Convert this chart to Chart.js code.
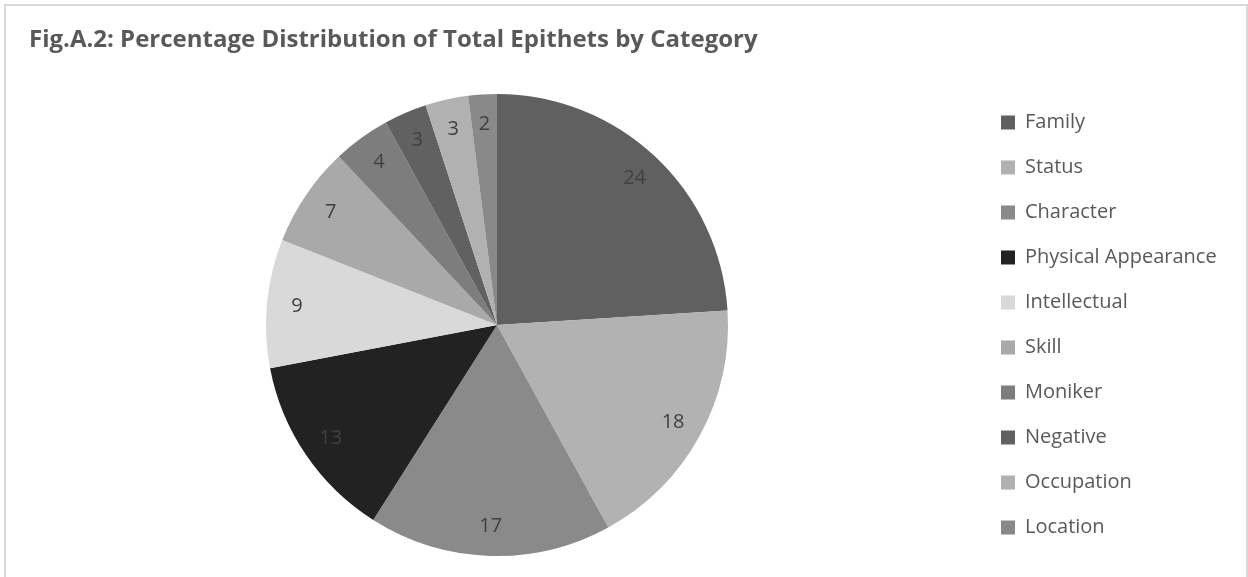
<!DOCTYPE html>
<html>
<head>
<meta charset="utf-8">
<script src="https://cdn.jsdelivr.net/npm/chart.js@4.4.1/dist/chart.umd.min.js"></script>
<style>
  html, body { margin:0; padding:0; background:#fff; }
  #wrap { position:relative; width:1248px; height:577px; overflow:hidden; }
  #frame { position:absolute; left:4px; top:4px; width:1240px; height:640px; border:2px solid #d9d9d9; }
  #title { position:absolute; left:29px; top:26px; font:bold 24px/24px 'Open Sans', sans-serif; color:#595959; white-space:nowrap; }
  #pie { position:absolute; left:0; top:0; }
</style>
</head>
<body>
<div id="wrap">
  <div id="frame"></div>
  <canvas id="pie" width="1248" height="577"></canvas>
  <div id="title">Fig.A.2: Percentage Distribution of Total Epithets by Category</div>
</div>
<script>
const categories = ['Family','Status','Character','Physical Appearance','Intellectual','Skill','Moniker','Negative','Occupation','Location'];
const shares = [24, 18, 17, 13, 9, 7, 4, 3, 3, 2];
const sliceColors = ['#606060','#b2b2b2','#8a8a8a','#222222','#d9d9d9','#a9a9a9','#7d7d7d','#616161','#b1b1b1','#898989'];

Chart.defaults.font.family = "'Open Sans', sans-serif";
Chart.defaults.color = '#595959';

const FONT = 20, PAD = 25, BOX = 14;
const LEGEND_LEFT = 976, PIE_CX = 497, PIE_R = 231;

// width of the longest legend entry decides how much room the right side needs
// (the legend ends up ~10px wider than this estimate, hence the extra 10)
const mctx = document.createElement('canvas').getContext('2d');
mctx.font = FONT + "px 'Open Sans'";
const maxText = Math.max(...categories.map(c => mctx.measureText(c).width));
const legendW = PAD + BOX + FONT / 2 + maxText;
const padRight = Math.max(0, 1248 - LEGEND_LEFT - 10 - legendW);
const padLeft = 2 * PIE_CX - LEGEND_LEFT;

// value labels sit near the rim of each slice
const sliceLabels = {
  id:'sliceLabels',
  afterDatasetsDraw(chart) {
    const ctx = chart.ctx;
    const meta = chart.getDatasetMeta(0);
    ctx.save();
    ctx.font = FONT + "px 'Open Sans'";
    ctx.fillStyle = '#404040';
    ctx.textAlign = 'center';
    ctx.textBaseline = 'middle';
    meta.data.forEach((arc, i) => {
      const p = arc.getProps(['x','y','startAngle','endAngle','outerRadius'], true);
      const mid = (p.startAngle + p.endAngle) / 2;
      const r = p.outerRadius * 0.87;
      ctx.fillText(String(shares[i]), p.x + Math.cos(mid) * r, p.y + Math.sin(mid) * r);
    });
    ctx.restore();
  }
};

new Chart(document.getElementById('pie'), {
  type:'pie',
  data:{ labels:categories, datasets:[{ data:shares, backgroundColor:sliceColors, borderWidth:0, hoverOffset:0 }] },
  options:{
    responsive:false, animation:false,
    radius:PIE_R,
    layout:{ padding:{ top:86, bottom:13, left:padLeft, right:padRight } },
    plugins:{
      legend:{
        position:'right', align:'center',
        labels:{ boxWidth:BOX, boxHeight:BOX, padding:PAD, color:'#595959', font:{ size:FONT } }
      },
      tooltip:{ enabled:false }
    }
  },
  plugins:[sliceLabels]
});
</script>
</body>
</html>
